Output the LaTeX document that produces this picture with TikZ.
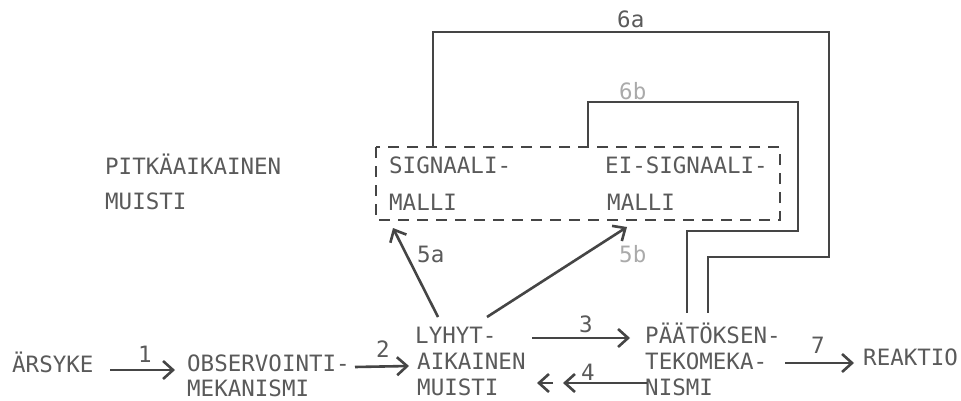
\documentclass[tikz,border=0pt]{standalone}
\usepackage{fontspec}
\setmonofont{DejaVu Sans Mono}
\usetikzlibrary{arrows.meta}
\definecolor{ink}{HTML}{454545}
\definecolor{txt}{HTML}{5A5A5A}
\definecolor{pale}{HTML}{AAAAAA}
\begin{document}
\begin{tikzpicture}[x=1pt,y=-1pt,
  lbl/.style={anchor=base west,inner sep=0pt,text=txt,font=\ttfamily\fontsize{22.5}{26}\selectfont},
  num/.style={lbl},
  paleno/.style={lbl,text=pale},
  conn/.style={draw=ink,line width=2.6pt},
  arr/.style={conn,-{Straight Barb[length=10pt,width=18pt,line width=2.6pt]}},
  dashbox/.style={draw=ink,line width=2.4pt,dash pattern=on 11pt off 8pt}]
\useasboundingbox[fill=white] (0,0) rectangle (961,401);
% texts
\node[lbl] (ars) at (12,372) {ÄRSYKE};
\node[lbl] (obs1) at (187,371) {OBSERVOINTI-};
\node[lbl] (obs2) at (187,396) {MEKANISMI};
\node[lbl] (lyh1) at (415,343) {LYHYT-};
\node[lbl] (lyh2) at (417,369) {AIKAINEN};
\node[lbl] (lyh3) at (417,395) {MUISTI};
\node[lbl] (paa1) at (645,343) {PÄÄTÖKSEN-};
\node[lbl] (paa2) at (645,369) {TEKOMEKA-};
\node[lbl] (paa3) at (645,395) {NISMI};
\node[lbl] (rea) at (863,365) {REAKTIO};
\node[lbl] (pit1) at (105,175) {PITKÄAIKAINEN};
\node[lbl] (pit2) at (105,209) {MUISTI};
\node[lbl] (sig1) at (389,173) {SIGNAALI-};
\node[lbl] (sig2) at (389,210) {MALLI};
\node[lbl] (eis1) at (605,173) {EI-SIGNAALI-};
\node[lbl] (eis2) at (607,210) {MALLI};
% numbers
\node[num] (n1) at (138,362) {1};
\node[num] (n2) at (376,357) {2};
\node[num] (n3) at (579,332) {3};
\node[num] (n4) at (581,380) {4};
\node[num] (n7) at (811,353) {7};
\node[num] (n5a) at (417,262) {5a};
\node[paleno] (n5b) at (619,262) {5b};
\node[num] (n6a) at (617,28) {6a};
\node[paleno] (n6b) at (619,100) {6b};
% long-term memory box
\coordinate (bx1) at (376,147);
\coordinate (bx2) at (780,220);
\draw[dashbox] (bx1) rectangle (bx2);
% coordinates for connector ends
\coordinate (s6a) at (433,147);
\coordinate (s6b) at (588,147);
\coordinate (e6a) at (708,313);
\coordinate (e6b) at (687,313);
\coordinate (t5a) at (393,228);
\coordinate (t5b) at (627,227);
\coordinate (f5a) at (438,317);
\coordinate (f5b) at (487,317);
% feedback lines
\draw[conn] (s6a) -- (433,32) -- (829,32) -- (829,257) -- (708,257) -- (e6a);
\draw[conn] (s6b) -- (588,102) -- (798,102) -- (798,231) -- (687,231) -- (e6b);
% arrows
\draw[arr] (110,370) -- (175,370);
\draw[arr] (355,367) -- (409,366);
\draw[arr] (532,338) -- (630,338);
\draw[arr] (647,383) -- (563,383);
\draw[arr] (553,383) -- (537,383);
\draw[arr] (785,363) -- (854,363);
\draw[arr] (f5a) -- (t5a);
\draw[arr] (f5b) -- (t5b);
\end{tikzpicture}
\end{document}
